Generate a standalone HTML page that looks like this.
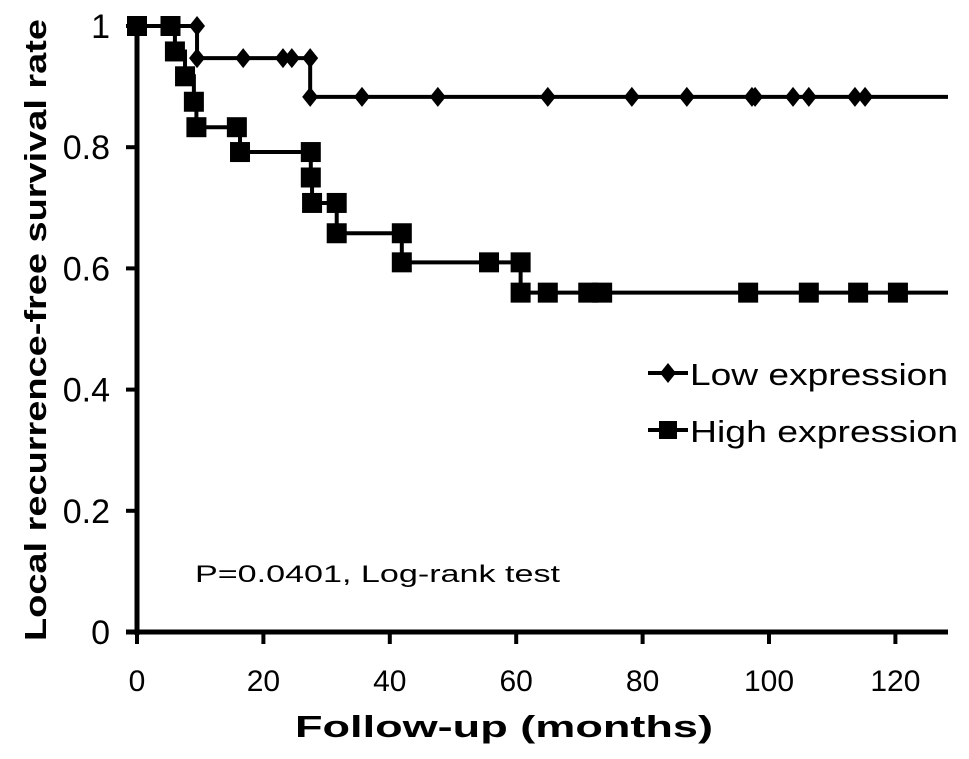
<!DOCTYPE html>
<html><head><meta charset="utf-8"><style>
html,body{margin:0;padding:0;background:#fff}
svg{display:block;font-family:"Liberation Sans",Arial,sans-serif}
</style></head><body>
<svg id="chart" width="969" height="759" viewBox="0 0 969 759" xmlns="http://www.w3.org/2000/svg">
<g id="axes"></g>
<g id="series"></g>
<text transform="translate(46,330) rotate(-90)" text-anchor="middle" font-size="31" font-weight="bold" textLength="622" lengthAdjust="spacingAndGlyphs">Local recurrence-free survival rate</text>
<text x="504" y="737" text-anchor="middle" font-size="31" font-weight="bold" textLength="418" lengthAdjust="spacingAndGlyphs">Follow-up (months)</text>
<text x="195" y="582" font-size="24" textLength="365" lengthAdjust="spacingAndGlyphs">P=0.0401, Log-rank test</text>
<g>
<line x1="648" y1="373" x2="688" y2="373" stroke="#000" stroke-width="4"/>
<path d="M668 363 L676 373 L668 383 L660 373 Z" fill="#000"/>
<text x="690" y="385" font-size="31" textLength="258" lengthAdjust="spacingAndGlyphs">Low expression</text>
<line x1="648" y1="430" x2="688" y2="430" stroke="#000" stroke-width="4"/>
<rect x="659" y="421" width="18" height="18" fill="#000"/>
<text x="690" y="442" font-size="31" textLength="268" lengthAdjust="spacingAndGlyphs">High expression</text>
</g>
</svg>
<script>
const xTicks = [0, 20, 40, 60, 80, 100, 120];
const yTicks = [0, 0.2, 0.4, 0.6, 0.8, 1];
const yTickLabels = ["0", "0.2", "0.4", "0.6", "0.8", "1"];
const lowX = [0, 9.5, 9.5, 16.8, 23.1, 24.5, 27.4, 27.4, 35.6, 47.6, 65, 78.3, 87, 97.3, 97.8, 103.8, 106.3, 113.6, 115.2];
const lowY = [1, 1, 0.947, 0.947, 0.947, 0.947, 0.947, 0.883, 0.883, 0.883, 0.883, 0.883, 0.883, 0.883, 0.883, 0.883, 0.883, 0.883, 0.883];
const highX = [0, 5.3, 6, 7.6, 9.0, 9.4, 15.8, 16.3, 27.5, 27.5, 27.7, 31.6, 31.6, 41.9, 41.9, 55.7, 60.7, 60.7, 65, 71.4, 73.6, 96.7, 106.3, 114.1, 120.4];
const highY = [1, 1, 0.958, 0.917, 0.875, 0.833, 0.833, 0.792, 0.792, 0.75, 0.708, 0.708, 0.658, 0.658, 0.61, 0.61, 0.61, 0.56, 0.56, 0.56, 0.56, 0.56, 0.56, 0.56, 0.56];

const X0 = 137, PXM = 6.32, XEND = 948, Y0 = 632, Y1 = 26;
const sx = v => X0 + v * PXM;
const sy = v => Y0 - v * (Y0 - Y1);
const NS = "http://www.w3.org/2000/svg";
function mk(tag, attrs, parent) {
  const e = document.createElementNS(NS, tag);
  for (const k in attrs) e.setAttribute(k, attrs[k]);
  parent.appendChild(e);
  return e;
}
const axes = document.getElementById('axes');
let yl = mk('line', {x1: X0, y1: 24, x2: X0, y2: Y0 + 3, stroke: '#000', 'stroke-width': 5}, axes);


let xl = mk('line', {x1: 126, y1: Y0, x2: XEND, y2: Y0, stroke: '#000', 'stroke-width': 5}, axes);


xTicks.forEach(t => {
  const tk = mk('line', {x1: sx(t), y1: Y0, x2: sx(t), y2: Y0 + 12, stroke: '#000', 'stroke-width': 4}, axes);
  
  
  const tx = mk('text', {x: sx(t), y: 691, 'text-anchor': 'middle', 'font-size': 30}, axes);
  
  
  tx.textContent = String(t);
});
yTicks.forEach((t, i) => {
  const tk = mk('line', {x1: 126, y1: sy(t), x2: X0, y2: sy(t), stroke: '#000', 'stroke-width': 4}, axes);
  
  
  const tx = mk('text', {x: 110, y: sy(t) + 12, 'text-anchor': 'end', 'font-size': 34}, axes);
  
  
  tx.textContent = yTickLabels[i];
});
const series = document.getElementById('series');
function stepPath(xs, ys) {
  let d = 'M' + sx(xs[0]) + ' ' + sy(ys[0]);
  for (let i = 1; i < xs.length; i++) {
    d += ' L' + sx(xs[i]) + ' ' + sy(ys[i - 1]) + ' L' + sx(xs[i]) + ' ' + sy(ys[i]);
  }
  d += ' L' + XEND + ' ' + sy(ys[ys.length - 1]);
  return d;
}
const lowLine = mk('path', {d: stepPath(lowX, lowY), fill: 'none', stroke: '#000', 'stroke-width': 4}, series);


const highLine = mk('path', {d: stepPath(highX, highY), fill: 'none', stroke: '#000', 'stroke-width': 4}, series);


lowX.forEach((v, i) => {
  const cx = sx(v), cy = sy(lowY[i]);
  const m = mk('path', {d: `M${cx} ${cy - 10} L${cx + 8} ${cy} L${cx} ${cy + 10} L${cx - 8} ${cy} Z`, fill: '#000'}, series);
  
  
});
highX.forEach((v, i) => {
  const cx = sx(v), cy = sy(highY[i]);
  const m = mk('rect', {x: cx - 10, y: cy - 10, width: 20, height: 20, fill: '#000'}, series);
  
  
});
</script>
</body></html>
